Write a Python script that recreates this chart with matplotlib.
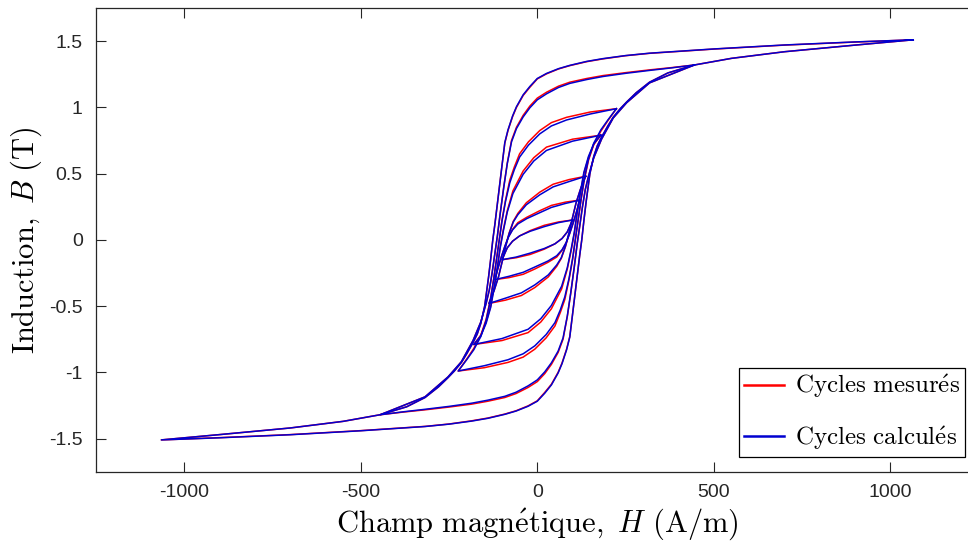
import numpy as np
import matplotlib
matplotlib.use("Agg")
import matplotlib.pyplot as plt

# branches descendantes (H en A/m, B en T); la branche montante est la symetrique (-H, -B)
H_major = [1065, 900, 700, 500, 318, 250, 186, 140, 92, 60, 26, 0, -21, -40, -59, -70, -83,
           -92, -100, -110, -120, -126, -132, -138, -143, -149, -160, -170, -182, -200, -215,
           -235, -253, -280, -318, -370, -445, -550, -700, -900, -1065]
B_major_mes = [1.51, 1.493, 1.47, 1.44, 1.408, 1.39, 1.366, 1.345, 1.315, 1.29, 1.253, 1.215,
               1.152, 1.09, 1.00, 0.93, 0.825, 0.73, 0.56, 0.34, 0.12, 0.0, -0.145, -0.28,
               -0.38, -0.5, -0.63, -0.71, -0.775, -0.86, -0.925, -0.99, -1.04, -1.11, -1.19,
               -1.26, -1.32, -1.37, -1.42, -1.47, -1.51]
B_major_cal = [1.51, 1.494, 1.471, 1.441, 1.409, 1.391, 1.368, 1.347, 1.317, 1.292, 1.256,
               1.218, 1.158, 1.095, 1.005, 0.935, 0.83, 0.735, 0.56, 0.34, 0.12, 0.0, -0.145,
               -0.28, -0.38, -0.5, -0.63, -0.71, -0.775, -0.86, -0.925, -0.99, -1.04, -1.11,
               -1.19, -1.26, -1.32, -1.37, -1.42, -1.47, -1.51]

H_c2 = [445, 380, 318, 250, 186, 140, 92, 60, 26, 0, -21, -40, -59, -73, -85, -95, -105, -113,
        -120, -128, -136, -145, -160, -182, -215, -253, -318, -445]
B_c2_mes = [1.32, 1.30, 1.283, 1.262, 1.24, 1.218, 1.19, 1.16, 1.114, 1.07, 1.01, 0.94, 0.85,
            0.75, 0.58, 0.4, 0.2, 0.03, -0.1, -0.25, -0.38, -0.48, -0.62, -0.76, -0.92, -1.035,
            -1.185, -1.32]
B_c2_cal = [1.32, 1.298, 1.279, 1.257, 1.233, 1.21, 1.181, 1.15, 1.102, 1.057, 0.997, 0.928,
            0.84, 0.74, 0.575, 0.395, 0.2, 0.03, -0.1, -0.25, -0.38, -0.48, -0.62, -0.76, -0.92,
            -1.035, -1.185, -1.32]

H_c3 = [224, 150, 83, 40, 7, -25, -50, -65, -78, -90, -100, -108, -116, -124, -133, -145, -160,
        -180, -200, -224]
B_c3_mes = [0.99, 0.965, 0.925, 0.885, 0.825, 0.74, 0.65, 0.55, 0.45, 0.3, 0.15, 0.0, -0.15,
            -0.3, -0.45, -0.6, -0.72, -0.82, -0.9, -0.99]
B_c3_cal = [0.99, 0.95, 0.905, 0.86, 0.80, 0.715, 0.625, 0.53, 0.43, 0.29, 0.14, -0.01, -0.16,
            -0.31, -0.46, -0.61, -0.73, -0.83, -0.905, -0.99]

H_c4 = [180, 100, 26, -10, -40, -69, -85, -96, -105, -113, -122, -132, -145, -160, -180]
B_c4_mes = [0.79, 0.76, 0.70, 0.62, 0.52, 0.37, 0.22, 0.08, -0.05, -0.2, -0.35, -0.5, -0.62,
            -0.72, -0.79]
B_c4_cal = [0.79, 0.745, 0.675, 0.595, 0.495, 0.35, 0.21, 0.07, -0.06, -0.21, -0.36, -0.51,
            -0.63, -0.725, -0.79]

H_c5 = [137, 90, 45, 7, -31, -55, -68, -80, -90, -100, -110, -122, -137]
B_c5_mes = [0.48, 0.455, 0.42, 0.36, 0.28, 0.2, 0.14, 0.05, -0.05, -0.17, -0.28, -0.38, -0.48]
B_c5_cal = [0.48, 0.44, 0.40, 0.34, 0.265, 0.19, 0.135, 0.045, -0.055, -0.17, -0.28, -0.38, -0.48]

H_c6 = [120, 80, 40, 7, -30, -55, -70, -82, -92, -102, -112, -120]
B_c6_mes = [0.30, 0.285, 0.26, 0.22, 0.17, 0.13, 0.08, 0.02, -0.05, -0.13, -0.22, -0.30]
B_c6_cal = [0.30, 0.275, 0.245, 0.205, 0.16, 0.12, 0.075, 0.02, -0.05, -0.13, -0.22, -0.30]

H_c7 = [100, 60, 20, -20, -50, -70, -85, -100]
B_c7_mes = [0.15, 0.135, 0.11, 0.07, 0.03, -0.01, -0.06, -0.15]
B_c7_cal = [0.15, 0.13, 0.10, 0.065, 0.03, -0.01, -0.06, -0.15]

cycles_H = [H_major, H_c2, H_c3, H_c4, H_c5, H_c6, H_c7]
cycles_mes = [B_major_mes, B_c2_mes, B_c3_mes, B_c4_mes, B_c5_mes, B_c6_mes, B_c7_mes]
cycles_cal = [B_major_cal, B_c2_cal, B_c3_cal, B_c4_cal, B_c5_cal, B_c6_cal, B_c7_cal]

x_ticks = [-1000, -500, 0, 500, 1000]
x_labels = ['-1000', '-500', '0', '500', '1000']
y_ticks = [-1.5, -1, -0.5, 0, 0.5, 1, 1.5]
y_labels = ['-1.5', '-1', '-0.5', '0', '0.5', '1', '1.5']


def boucle(h, b):
    """ferme le cycle : branche montante = symetrique de la descendante"""
    h = np.array(h, dtype=float)
    b = np.array(b, dtype=float)
    return np.concatenate([h, -h[1:]]), np.concatenate([b, -b[1:]])


plt.rcParams['mathtext.fontset'] = 'cm'
plt.rcParams['axes.unicode_minus'] = False

fig = plt.figure(figsize=(9.68, 5.49), dpi=100)
ax = fig.add_axes([0.0992, 0.1408, 0.9117, 0.8446])

for h, b in zip(cycles_H, cycles_mes):
    hh, bb = boucle(h, b)
    l1, = ax.plot(hh, bb, color='#ff0000', lw=1.1)
for h, b in zip(cycles_H, cycles_cal):
    hh, bb = boucle(h, b)
    l2, = ax.plot(hh, bb, color='#0000d0', lw=1.1)

ax.set_xlim(-1250, 1250)
ax.set_ylim(-1.75, 1.75)
ax.set_xticks(x_ticks)
ax.set_xticklabels(x_labels, fontfamily='Liberation Sans', fontsize=14)
ax.set_yticks(y_ticks)
ax.set_yticklabels(y_labels, fontfamily='Liberation Sans', fontsize=14)
ax.tick_params(direction='in', length=7, width=0.8, color='#262626', top=True, right=True,
               labelcolor='#262626')
ax.tick_params(axis='y', pad=9.5)
ax.tick_params(axis='x', pad=9)
for s in ax.spines.values():
    s.set_color('#262626')
    s.set_linewidth(0.9)

ax.set_xlabel(r'$\mathrm{Champ\ magn\acute{e}tique,}\ H\ \mathrm{(A/m)}$', fontsize=22, labelpad=4)
ax.set_ylabel(r'$\mathrm{Induction,}\ B\ \mathrm{(T)}$', fontsize=22, labelpad=4)

leg = fig.legend([l1, l2], [r'$\mathrm{Cycles\ mesur\acute{e}s}$', r'$\mathrm{Cycles\ calcul\acute{e}s}$'],
                 loc='lower right', bbox_to_anchor=(0.997, 0.1676), bbox_transform=fig.transFigure,
                 borderaxespad=0, fontsize=18, fancybox=False, framealpha=1, edgecolor='black',
                 handlelength=1.6, labelspacing=0.95, borderpad=0.2, handletextpad=0.45)
leg.get_frame().set_linewidth(0.9)
for ln in leg.get_lines():
    ln.set_linewidth(1.8)

fig.savefig('out.png', dpi=100)
